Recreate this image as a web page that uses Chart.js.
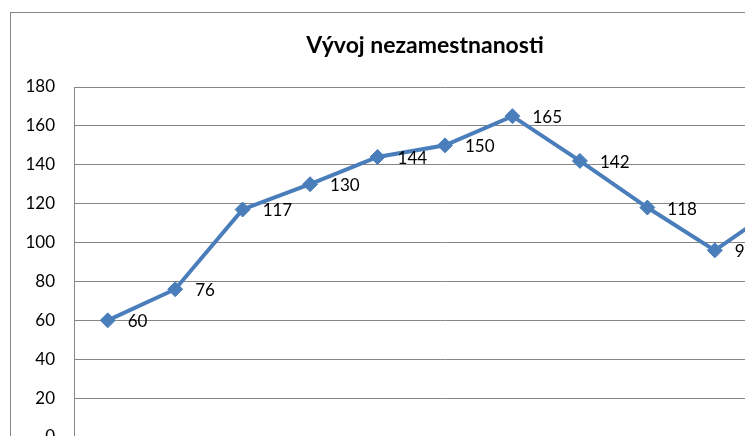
<!DOCTYPE html>
<html>
<head>
<meta charset="utf-8">
<script src="https://cdn.jsdelivr.net/npm/chart.js@4"></script>
<style>
  html, body { margin: 0; padding: 0; background: #fff; overflow: hidden; width: 745px; height: 436px; }
  #wrap { position: absolute; left: 10px; top: 12px; border-left: 1px solid #868686; border-top: 1px solid #868686; width: 900px; height: 480px; }
  canvas { display: block; }
</style>
</head>
<body>
<div id="wrap"><canvas id="c" width="900" height="480"></canvas></div>
<script>
const chartTitle = 'Vývoj nezamestnanosti';
const categories = ['2000', '2001', '2002', '2003', '2004', '2005', '2006', '2007', '2008', '2009', '2010'];
const unemployment = [60, 76, 117, 130, 144, 150, 165, 142, 118, 96, 120];
const yTicks = [0, 20, 40, 60, 80, 100, 120, 140, 160, 180];

const FONT = 'Lato, "Open Sans", sans-serif';

const dataLabels = {
  id: 'dataLabels',
  afterDatasetsDraw(chart) {
    const ctx = chart.ctx;
    const meta = chart.getDatasetMeta(0);
    const values = chart.data.datasets[0].data;
    ctx.save();
    ctx.font = '17px ' + FONT;
    ctx.fillStyle = '#000';
    ctx.textAlign = 'left';
    ctx.textBaseline = 'middle';
    meta.data.forEach((pt, i) => {
      ctx.fillText(String(values[i]), pt.x + 20, pt.y + 1.5);
    });
    ctx.restore();
  }
};

new Chart(document.getElementById('c'), {
  type: 'line',
  data: {
    labels: categories,
    datasets: [{
      label: chartTitle,
      data: unemployment,
      borderColor: '#4A7EBB',
      backgroundColor: '#4A7EBB',
      borderWidth: 4,
      pointStyle: 'rectRot',
      pointRadius: 7.5,
      pointHoverRadius: 7.5,
      pointBackgroundColor: '#4A7EBB',
      pointBorderColor: '#4A7EBB',
      pointBorderWidth: 1,
      tension: 0,
      clip: false
    }]
  },
  options: {
    responsive: false,
    animation: false,
    events: [],
    layout: { padding: { left: 0, right: 72, top: 0, bottom: 16 } },
    plugins: {
      legend: { display: false },
      tooltip: { enabled: false },
      title: {
        display: true,
        text: chartTitle,
        color: '#000',
        font: { family: FONT, size: 23, weight: 'bold' },
        padding: { top: 19, bottom: 27.4 }
      }
    },
    scales: {
      x: {
        type: 'category',
        offset: true,
        grid: { display: false, drawTicks: false },
        border: { display: true, color: '#868686', width: 1 },
        ticks: { color: '#000', font: { family: FONT, size: 17 } },
        afterFit(scale) { scale.height = 40; }
      },
      y: {
        position: 'left',
        min: 0,
        max: 180,
        afterBuildTicks(scale) { scale.ticks = yTicks.map(v => ({ value: v })); },
        grid: { color: '#868686', lineWidth: 1, drawTicks: false },
        border: { display: true, color: '#868686', width: 1 },
        ticks: { color: '#000', padding: 19, font: { family: FONT, size: 17 } },
        afterFit(scale) { scale.width = 63; }
      },
      yRight: {
        position: 'right',
        min: 0,
        max: 180,
        grid: { display: false, drawTicks: false },
        border: { display: false },
        ticks: { display: false },
        afterFit(scale) { scale.width = 23; }
      }
    }
  },
  plugins: [dataLabels]
});
</script>
</body>
</html>
